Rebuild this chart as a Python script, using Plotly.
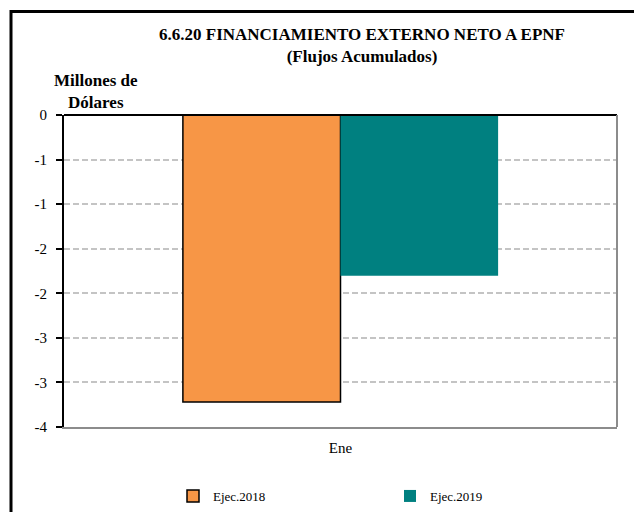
import plotly.graph_objects as go

categories = ["Ene"]
series_names = ["Ejec.2018", "Ejec.2019"]
ejec_2018 = [-3.68]
ejec_2019 = [-2.06]
tick_labels = ["0", "-1", "-1", "-2", "-2", "-3", "-3", "-4"]
y_min, y_max = -4.0, 0.0

step = (y_max - y_min) / (len(tick_labels) - 1)
tick_vals = [y_max - i * step for i in range(len(tick_labels))]

# the page places the figure 8px from the top-left corner
OFF = 8
W, H = 642 - OFF, 515
H_EFF = 512 - OFF
L, R, T, B = 64 - OFF, 25, 115 - OFF, 85
pw, ph = W - L - R, H_EFF - T - B


def px(x):
    """page x pixel -> paper x"""
    return (x - OFF - L) / pw


def py(y):
    """page y pixel -> paper y"""
    return (H_EFF - B - (y - OFF)) / ph


FONT = "Liberation Serif"

fig = go.Figure()
fig.add_trace(go.Bar(
    x=categories, y=ejec_2018, name=series_names[0],
    marker=dict(color="#F79646", line=dict(color="black", width=1.5)),
))
fig.add_trace(go.Bar(
    x=categories, y=ejec_2019, name=series_names[1],
    marker=dict(color="#008080", line=dict(color="#008080", width=0)),
))

fig.update_layout(
    width=W, height=H, autosize=False,
    margin=dict(l=L, r=R, t=T, b=B),
    paper_bgcolor="white", plot_bgcolor="white",
    barmode="group", bargap=0.43, bargroupgap=0,
    font=dict(family=FONT, color="black"),
    showlegend=True,
    legend=dict(
        orientation="h", x=px(173), y=py(481), xanchor="left", yanchor="top",
        font=dict(family=FONT, size=13, color="black"),
        entrywidth=172, entrywidthmode="pixels", itemwidth=30,
        bgcolor="rgba(0,0,0,0)",
    ),
    xaxis=dict(
        showline=True, linecolor="#8C8C8C", linewidth=2,
        tickfont=dict(family=FONT, size=15, color="black"),
        ticks="", showgrid=False, ticklabelstandoff=6,
    ),
    yaxis=dict(
        range=[y_min, y_max],
        tickvals=tick_vals, ticktext=tick_labels,
        tickfont=dict(family=FONT, size=15, color="black"),
        showline=True, linecolor="black", linewidth=2,
        ticks="outside", ticklen=6, tickwidth=2, tickcolor="black",
        ticklabelstandoff=6,
        showgrid=True, gridcolor="#C4C4C4", gridwidth=1.5, griddash="6px,3px",
        zeroline=False,
    ),
    annotations=[
        dict(
            text="<b>6.6.20 FINANCIAMIENTO EXTERNO NETO A EPNF</b><br><b>(Flujos Acumulados)</b>",
            x=px(362), y=py(46), xref="paper", yref="paper",
            xanchor="center", yanchor="middle", showarrow=False,
            font=dict(family=FONT, size=17, color="black"), align="center",
        ),
        dict(
            text="<b>Millones de</b><br><b>Dólares</b>",
            x=px(96), y=py(91), xref="paper", yref="paper",
            xanchor="center", yanchor="middle", showarrow=False,
            font=dict(family=FONT, size=17, color="black"), align="center",
        ),
    ],
    shapes=[
        dict(type="line", xref="paper", yref="paper", x0=0, x1=1, y0=1, y1=1,
             line=dict(color="black", width=2), layer="above"),
        dict(type="line", xref="paper", yref="paper", x0=1, x1=1, y0=0, y1=1,
             line=dict(color="#8C8C8C", width=2), layer="above"),
        dict(type="rect", xref="paper", yref="paper",
             x0=px(11), x1=px(660), y0=py(11.5), y1=py(530),
             line=dict(color="black", width=3), layer="above"),
    ],
)

fig.write_html("out.html")
